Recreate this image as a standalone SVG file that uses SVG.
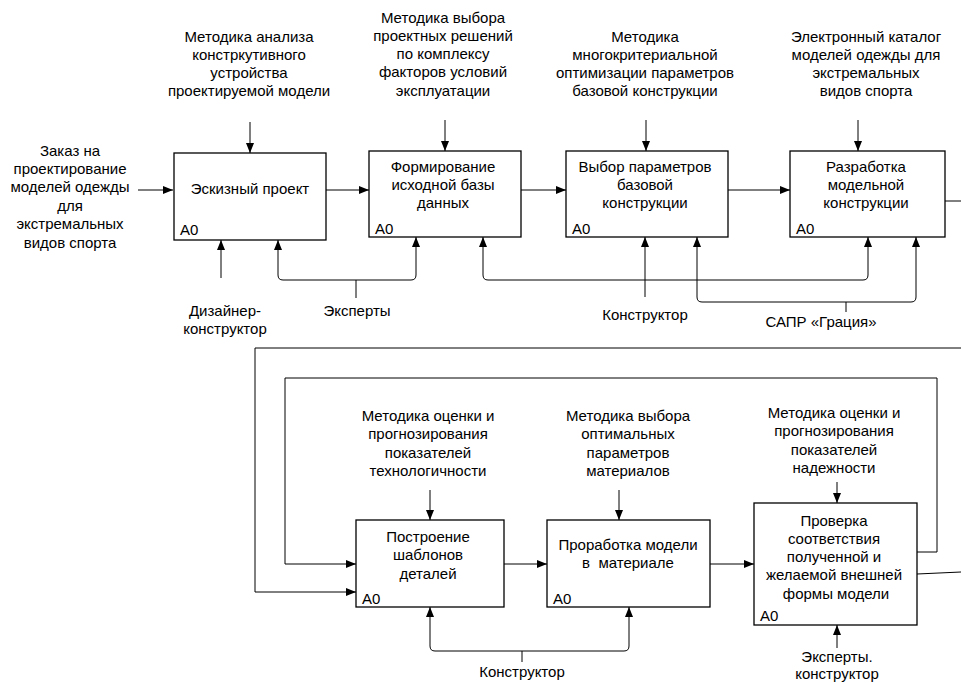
<svg xmlns="http://www.w3.org/2000/svg" width="961" height="683" viewBox="0 0 961 683">
<style>
text{font-family:"Liberation Sans",Arial,sans-serif;font-size:15px;fill:#000;text-anchor:middle}
text.a0{text-anchor:start}
.box{fill:#fff;stroke:#000;stroke-width:1.3}
.ln{fill:none;stroke:#000;stroke-width:1}
.ar{marker-end:url(#ah)}
</style>
<defs>
<marker id="ah" viewBox="0 0 10 8" refX="10" refY="4" markerWidth="10" markerHeight="8" markerUnits="userSpaceOnUse" orient="auto">
<path d="M0,0 L10,4 L0,8 Z" fill="#000"/>
</marker>
</defs>
<g id="connectors">
<path class="ln ar" d="M138,190 H173"/>
<path class="ln ar" d="M250,122 V153"/>
<path class="ln ar" d="M445,120 V151"/>
<path class="ln ar" d="M646,120 V151"/>
<path class="ln ar" d="M858,120 V151"/>
<path class="ln ar" d="M326,190 H369"/>
<path class="ln ar" d="M521,190 H566"/>
<path class="ln ar" d="M728,190 H790"/>
<path class="ln" d="M945,201 H961"/>
<path class="ln ar" d="M221,278 V240"/>
<path class="ln" d="M356,298 V280"/>
<path class="ln ar" d="M356,280 H283 Q278,280 278,275 V240"/>
<path class="ln ar" d="M356,280 H411 Q416,280 416,275 V237"/>
<path class="ln ar" d="M645,297 V237"/>
<path class="ln ar" d="M645,280 H488 Q483,280 483,275 V237"/>
<path class="ln ar" d="M645,280 H863 Q868,280 868,275 V237"/>
<path class="ln" d="M846,312 V302"/>
<path class="ln ar" d="M846,302 H702 Q697,302 697,297 V237"/>
<path class="ln ar" d="M846,302 H911 Q916,302 916,297 V237"/>
<path class="ln ar" d="M430,490 V520"/>
<path class="ln ar" d="M619,490 V520"/>
<path class="ln ar" d="M837,482 V503"/>
<path class="ln ar" d="M504,564 H547"/>
<path class="ln ar" d="M710,564 H754"/>
<path class="ln ar" d="M917,552 H937 V378 H285 V564 H356"/>
<path class="ln" d="M917,574 L961,572"/>
<path class="ln ar" d="M961,348 H255 V592 H356"/>
<path class="ln ar" d="M837,648 V625"/>
<path class="ln" d="M522,662 V651"/>
<path class="ln ar" d="M522,651 H435 Q430,651 430,646 V607"/>
<path class="ln ar" d="M522,651 H624 Q629,651 629,646 V607"/>
</g>
<g id="labels">
<text x="249" y="41.5">Методика анализа<tspan x="249" dy="18.3">констркутивного</tspan><tspan x="249" dy="18.3">устройства</tspan><tspan x="249" dy="18.3">проектируемой модели</tspan></text>
<text x="443" y="22.5">Методика выбора<tspan x="443" dy="18.3">проектных решений</tspan><tspan x="443" dy="18.3">по комплексу</tspan><tspan x="443" dy="18.3">факторов условий</tspan><tspan x="443" dy="18.3">эксплуатации</tspan></text>
<text x="645" y="41.5">Методика<tspan x="645" dy="18.3">многокритериальной</tspan><tspan x="645" dy="18.3">оптимизации параметров</tspan><tspan x="645" dy="18.3">базовой конструкции</tspan></text>
<text x="866" y="41.5">Электронный каталог<tspan x="866" dy="18.3">моделей одежды для</tspan><tspan x="866" dy="18.3">экстремальных</tspan><tspan x="866" dy="18.3">видов спорта</tspan></text>
<text x="70" y="155.5">Заказ на<tspan x="70" dy="18.4">проектирование</tspan><tspan x="70" dy="18.4">моделей одежды</tspan><tspan x="70" dy="18.4">для</tspan><tspan x="70" dy="18.4">экстремальных</tspan><tspan x="70" dy="18.4">видов спорта</tspan></text>
<text x="225" y="315.5">Дизайнер-<tspan x="225" dy="18.3">конструктор</tspan></text>
<text x="357" y="315.5">Эксперты</text>
<text x="645" y="319.5">Конструктор</text>
<text x="821" y="327">САПР «Грация»</text>
<text x="428" y="421">Методика оценки и<tspan x="428" dy="18.3">прогнозирования</tspan><tspan x="428" dy="18.3">показателей</tspan><tspan x="428" dy="18.3">технологичности</tspan></text>
<text x="628" y="421">Методика выбора<tspan x="628" dy="18.3">оптимальных</tspan><tspan x="628" dy="18.3">параметров</tspan><tspan x="628" dy="18.3">материалов</tspan></text>
<text x="834" y="418">Методика оценки и<tspan x="834" dy="18.3">прогнозирования</tspan><tspan x="834" dy="18.3">показателей</tspan><tspan x="834" dy="18.3">надежности</tspan></text>
<text x="522" y="677">Конструктор</text>
<text x="837" y="661.5">Эксперты.<tspan x="837" dy="17.5">конструктор</tspan></text>
</g>
<g id="box1">
<rect class="box" x="174" y="153" width="152" height="87"/>
<text x="250" y="193.5">Эскизный проект</text>
<text class="a0" x="180" y="235">A0</text>
</g>
<g id="box2">
<rect class="box" x="369" y="151" width="152" height="86"/>
<text x="443" y="171.5">Формирование<tspan x="443" dy="18.3">исходной базы</tspan><tspan x="443" dy="18.3">данных</tspan></text>
<text class="a0" x="375" y="234">A0</text>
</g>
<g id="box3">
<rect class="box" x="566" y="151" width="162" height="86"/>
<text x="645" y="171.5">Выбор параметров<tspan x="645" dy="18.3">базовой</tspan><tspan x="645" dy="18.3">конструкции</tspan></text>
<text class="a0" x="572" y="234">A0</text>
</g>
<g id="box4">
<rect class="box" x="790" y="151" width="155" height="86"/>
<text x="866" y="171.5">Разработка<tspan x="866" dy="18.3">модельной</tspan><tspan x="866" dy="18.3">конструкции</tspan></text>
<text class="a0" x="796" y="234">A0</text>
</g>
<g id="box5">
<rect class="box" x="356" y="520" width="148" height="87"/>
<text x="428" y="542">Построение<tspan x="428" dy="18.3">шаблонов</tspan><tspan x="428" dy="18.3">деталей</tspan></text>
<text class="a0" x="362" y="604">A0</text>
</g>
<g id="box6">
<rect class="box" x="547" y="520" width="163" height="87"/>
<text x="628" y="549.5" xml:space="preserve">Проработка модели<tspan x="628" dy="18.3">в  материале</tspan></text>
<text class="a0" x="553" y="604">A0</text>
</g>
<g id="box7">
<rect class="box" x="754" y="503" width="163" height="122"/>
<text x="834" y="525.5">Проверка<tspan x="834" dy="18.3">соответствия</tspan><tspan x="834" dy="18.3">полученной и</tspan><tspan x="834" dy="18.3">желаемой внешней</tspan><tspan x="836" dy="18.3">формы модели</tspan></text>
<text class="a0" x="760" y="621">A0</text>
</g>
</svg>
